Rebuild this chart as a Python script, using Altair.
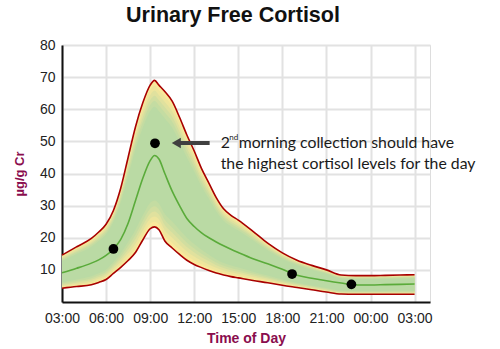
import altair as alt
import pandas as pd

# ---- data ----
hours = [3, 4, 5, 5.5, 6, 6.5, 7, 7.5, 8, 8.5, 9, 9.3, 9.6, 10, 10.5, 11, 11.5, 12, 12.5,
         13, 13.5, 14, 14.5, 15, 16, 17, 18, 19, 20, 21, 22, 23, 24, 25, 26, 27]
upper = [14.6, 17.2, 19.8, 21.8, 24.2, 28.5, 35.5, 45, 54.5, 62, 67.5, 69, 67.5, 65.5, 62.5, 57.5, 52, 47, 41.5,
         37, 32.5, 29, 27, 25.5, 22, 18.3, 15.3, 13, 11.4, 10, 8.4, 8.2, 8.2, 8.3, 8.4, 8.5]
mid = [9.1, 10.5, 12.1, 13.1, 14.5, 16.5, 19.5, 24.5, 31.5, 38.5, 44, 45.6, 44.5, 40, 34.5, 30, 26, 23.5, 21.5,
       20, 18.7, 17.5, 16.4, 15.4, 13.5, 11.9, 10.2, 8.3, 7.4, 6.6, 5.9, 5.3, 5.3, 5.4, 5.5, 5.6]
lower = [4.3, 4.8, 5.4, 6.1, 7.0, 8.9, 10.8, 12.9, 15.4, 19.3, 22.8, 23.4, 22.5, 19, 16.8, 14.8, 13, 11.7, 10.7,
         9.8, 9, 8.4, 7.9, 7.5, 6.7, 6, 5.2, 4.5, 3.8, 3.1, 2.5, 2.4, 2.4, 2.4, 2.4, 2.4]

dot_hours = [6.5, 9.33, 18.66, 22.7]
dot_values = [16.5, 49.4, 8.7, 5.5]

x_ticks = [3, 6, 9, 12, 15, 18, 21, 24, 27]
y_ticks = [10, 20, 30, 40, 50, 60, 70, 80]

arrow_from = [13.05]
arrow_to = [10.95]
arrow_tip = [10.78]
arrow_value = [49.5]

note_hour = [13.8]
note_value = [49.5]
note_first = "2"
note_sup = "nd"
note_rest = "morning collection should have"
note_line2 = "the highest cortisol levels for the day"

title_text = "Urinary Free Cortisol"
x_title = "Time of Day"
y_title = "µg/g Cr"

df = pd.DataFrame({"h": hours, "up": upper, "mid": mid, "lo": lower})
dots = pd.DataFrame({"h": dot_hours, "v": dot_values})
arrow = pd.DataFrame({"h": arrow_from, "h2": arrow_to, "tip": arrow_tip, "v": arrow_value})
note = pd.DataFrame({"h": note_hour, "v": note_value})

W, H = 368, 257
XMAX = 28.05

xs = alt.Scale(domain=[3, XMAX], nice=False, zero=False)
ys = alt.Scale(domain=[0, 80], nice=False)

label_expr = "(datum.value % 24 < 10 ? '0' : '') + (datum.value % 24) + ':00'"

x_axis = alt.Axis(values=x_ticks, labelExpr=label_expr, title=x_title, ticks=False,
                  labelOverlap=False, labelFlush=False, labelBound=False,
                  labelFont="Liberation Sans", labelFontSize=14, labelColor="#222222",
                  labelPadding=9, domainColor="#111111", domainWidth=2,
                  gridColor="#e2e2e2", gridWidth=2,
                  titleFont="Liberation Sans", titleFontSize=14, titleFontWeight="bold",
                  titleColor="#8a0d4e", titleY=36, titleBaseline="middle")
y_axis = alt.Axis(values=y_ticks, title=y_title, ticks=False,
                  labelOverlap=False, labelFlush=False, labelBound=False,
                  labelFont="Liberation Sans", labelFontSize=14, labelColor="#222222",
                  labelPadding=7, domainColor="#111111", domainWidth=2,
                  gridColor="#e2e2e2", gridWidth=2,
                  titleFont="Liberation Sans", titleFontSize=13, titleFontWeight="bold",
                  titleColor="#8a0d4e", titleX=-43, titleY=H / 2, titleAngle=270,
                  titleAlign="center", titleBaseline="middle")


def X(field):
    return alt.X(field, type="quantitative", scale=xs, axis=x_axis)


def Y(field):
    return alt.Y(field, type="quantitative", scale=ys, axis=y_axis)


base = alt.Chart(df)

band_steps = [(0.0, "#fae89b"), (0.035, "#eee59c"), (0.07, "#e0e19e"),
              (0.105, "#d1dea0"), (0.14, "#c4dca2"), (0.18, "#badaa4")]
bands = []
for f, col in band_steps:
    bands.append(
        base.transform_calculate(
            a=f"datum.lo + {f} * (datum.up - datum.lo)",
            b=f"datum.up - {f} * (datum.up - datum.lo)",
        ).mark_area(color=col, interpolate="monotone").encode(
            x=X("h"), y=Y("a"), y2="b:Q",
        )
    )

up_line = base.mark_line(color="#a80000", strokeWidth=1.6, interpolate="monotone").encode(
    x=X("h"), y=Y("up"))
lo_line = base.mark_line(color="#a80000", strokeWidth=1.6, interpolate="monotone").encode(
    x=X("h"), y=Y("lo"))
mid_line = base.mark_line(color="#5aab3a", strokeWidth=1.6, interpolate="monotone").encode(
    x=X("h"), y=Y("mid"))

dot_layer = alt.Chart(dots).mark_circle(color="#000000", opacity=1, size=95).encode(
    x=X("h"), y=Y("v"))

shaft = alt.Chart(arrow).mark_rule(color="#404040", strokeWidth=4).encode(
    x=X("h"), x2="h2:Q", y=Y("v"))
head = alt.Chart(arrow).mark_point(shape="triangle-left", filled=True, color="#404040",
                                   opacity=1, size=110).encode(
    x=X("tip"), y=Y("v"))

txt_font = "Lato"
t1 = alt.Chart(note).mark_text(text=note_first, align="left", baseline="middle",
                               font=txt_font, fontSize=15.8, color="#1a1a1a").encode(
    x=X("h"), y=Y("v"))
t_sup = alt.Chart(note).mark_text(text=note_sup, align="left", baseline="middle",
                                  font=txt_font, fontSize=8, color="#1a1a1a", dx=8.6, dy=-5).encode(
    x=X("h"), y=Y("v"))
t_rest = alt.Chart(note).mark_text(text=note_rest, align="left", baseline="middle",
                                   font=txt_font, fontSize=15.8, color="#1a1a1a", dx=18).encode(
    x=X("h"), y=Y("v"))
t2 = alt.Chart(note).mark_text(text=note_line2, align="left", baseline="middle",
                               font=txt_font, fontSize=15.8, color="#1a1a1a", dy=21).encode(
    x=X("h"), y=Y("v"))

chart = alt.layer(
    *bands, up_line, lo_line, mid_line, dot_layer, shaft, head, t1, t_sup, t_rest, t2
).properties(
    width=W, height=H,
    title=alt.TitleParams(title_text, font="Liberation Sans Narrow, Arial Narrow, Liberation Sans",
                          fontSize=21.5, fontWeight="bold", color="#111111",
                          anchor="middle", frame="group", dx=-13, offset=12),
    autosize=alt.AutoSizeParams(type="none"),
    padding={"left": 62, "top": 45, "right": 70, "bottom": 47},
).configure_view(stroke=None).configure(background="white")

chart.save("out.html", embed_options={"renderer": "svg", "actions": False})
